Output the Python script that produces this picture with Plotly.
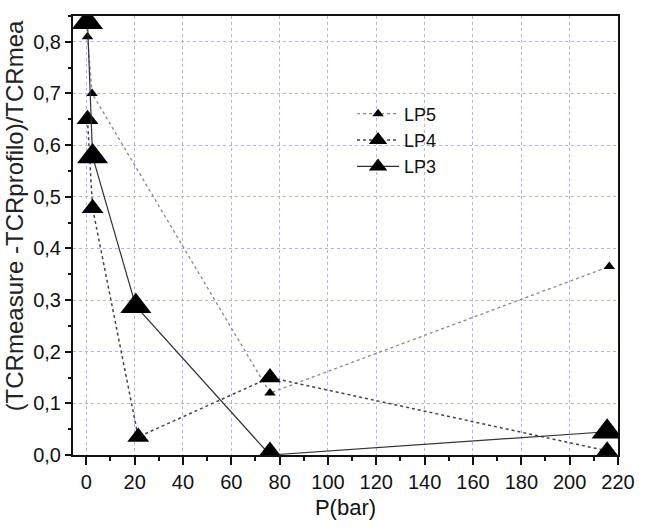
import plotly.graph_objects as go

# Data
lp5_p = [0.5, 2.4, 76, 216.4]
lp5_v = [0.81, 0.70, 0.12, 0.365]

lp4_p = [0.5, 2.6, 21.5, 76, 215.5]
lp4_v = [0.65, 0.478, 0.035, 0.15, 0.008]

lp3_p = [0.5, 2.6, 20.5, 76, 215.5]
lp3_v = [0.838, 0.578, 0.288, 0.0, 0.045]

x_ticks = list(range(0, 221, 20))
y_ticks = [0.0, 0.1, 0.2, 0.3, 0.4, 0.5, 0.6, 0.7, 0.8]

NARROW = "Liberation Sans Narrow, Arial Narrow, Liberation Sans, Arial, sans-serif"
REG = "Liberation Sans, Arial, sans-serif"

fig = go.Figure()
fig.add_trace(go.Scatter(
    x=lp5_p, y=lp5_v, name="LP5", mode="lines+markers",
    line=dict(color="#888888", width=1.3, dash="dot"),
    marker=dict(symbol="triangle-up", size=10, color="black"),
))
fig.add_trace(go.Scatter(
    x=lp4_p, y=lp4_v, name="LP4", mode="lines+markers",
    line=dict(color="#444444", width=1.5, dash="3px,3px"),
    marker=dict(symbol="triangle-up", size=19, color="black"),
))
fig.add_trace(go.Scatter(
    x=lp3_p, y=lp3_v, name="LP3", mode="lines+markers",
    line=dict(color="#333333", width=1.2),
    marker=dict(symbol="triangle-up", size=27, color="black"),
))

grid_col = "rgb(178,178,238)"
fig.update_xaxes(
    range=[-5.5, 220], tickmode="array", tickvals=x_ticks,
    ticks="outside", ticklen=8, tickwidth=2, tickcolor="#111",
    minor=dict(dtick=10, tick0=0, ticks="outside", ticklen=4, tickwidth=2, tickcolor="#111", showgrid=False),
    showline=True, linewidth=2, linecolor="#111", mirror=True,
    showgrid=True, gridcolor=grid_col, griddash="dot", gridwidth=1,
    zeroline=False,
    tickfont=dict(family=NARROW, size=20, color="#111"),
    title=dict(text="P(bar)", font=dict(family=NARROW, size=22, color="#111"), standoff=8),
)
fig.update_yaxes(
    range=[0, 0.85], tickmode="array", tickvals=y_ticks, tickformat=".1f",
    ticks="outside", ticklen=6, tickwidth=2, tickcolor="#111",
    minor=dict(dtick=0.05, tick0=0, ticks="outside", ticklen=3, tickwidth=2, tickcolor="#111", showgrid=False),
    showline=True, linewidth=2, linecolor="#111", mirror=True,
    showgrid=True, gridcolor=grid_col, griddash="dot", gridwidth=1,
    zeroline=False,
    tickfont=dict(family=NARROW, size=20, color="#111"),
)

fig.add_annotation(
    text="(TCRmeasure -TCRprofilo)/TCRmea",
    xref="paper", yref="paper", x=-0.108, y=0.094,
    xanchor="center", yanchor="bottom", textangle=-90, showarrow=False,
    font=dict(family=REG, size=24, color="#222"),
)

fig.update_layout(
    width=647, height=528,
    margin=dict(l=73, r=25, t=16, b=72),
    paper_bgcolor="white", plot_bgcolor="white",
    separators=",.",
    showlegend=True,
    legend=dict(
        x=0.512, y=0.819, xanchor="left", yanchor="top",
        bgcolor="rgba(0,0,0,0)", borderwidth=0,
        font=dict(family=NARROW, size=18, color="#111"),
        itemwidth=42, tracegroupgap=0,
    ),
)

fig.write_html("out.html")
